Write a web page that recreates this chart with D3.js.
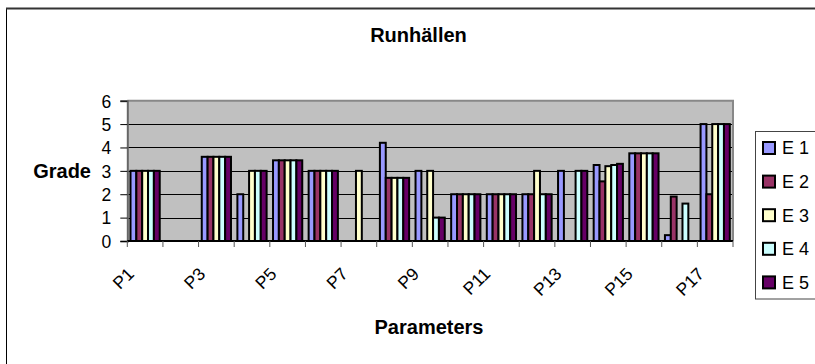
<!DOCTYPE html>
<html>
<head>
<meta charset="utf-8">
<script src="https://cdn.jsdelivr.net/npm/d3@7"></script>
<style>
  html, body { margin: 0; padding: 0; background: #fff; }
  svg { display: block; }
  text { font-family: "Liberation Sans", Arial, sans-serif; fill: #000; }
</style>
</head>
<body>
<svg id="chart" width="815" height="364"></svg>
<script>
// Grades per parameter for each evaluation round (null = not graded)
const categories = ["P1","P2","P3","P4","P5","P6","P7","P8","P9","P10","P11","P12","P13","P14","P15","P16","P17"];
const E1 = [3, null, 3.6, 2, 3.45, 3, null, 4.2, 3, 2, 2, 2, 3, 3.25, 3.75, 0.25, 5];
const E2 = [3, null, 3.6, null, 3.45, 3, null, 2.7, null, 2, 2, 2, null, 2.55, 3.75, 1.9, 2];
const E3 = [3, null, 3.6, 3, 3.45, 3, 3, 2.7, 3, 2, 2, 3, null, 3.2, 3.75, null, 5];
const E4 = [3, null, 3.6, 3, 3.45, 3, null, 2.7, 1, 2, 2, 2, 3, 3.25, 3.75, 1.6, 5];
const E5 = [3, null, 3.6, 3, 3.45, 3, null, 2.7, 1, 2, 2, 2, 3, 3.3, 3.75, null, 5];
const seriesNames = ["E 1", "E 2", "E 3", "E 4", "E 5"];
const seriesValues = [E1, E2, E3, E4, E5];
const colors = ["#9999FF", "#993366", "#FFFFCC", "#CCFFFF", "#660066"];
const yTicks = [0, 1, 2, 3, 4, 5, 6];
const tickLabels = categories.filter((d, i) => i % 2 === 0);

const svg = d3.select("#chart");

// Outer chart frame (left and top edges visible)
svg.append("path")
  .attr("d", "M6.5,364 V8.5 H815")
  .attr("fill", "none").attr("stroke", "#000").attr("stroke-width", 1);
svg.append("line")
  .attr("x1", 6).attr("x2", 815).attr("y1", 8.5).attr("y2", 8.5)
  .attr("stroke", "#333").attr("stroke-width", 2);

const plot = { left: 127.3, right: 733, top: 100.7, bottom: 241 };

const x0 = d3.scaleBand().domain(categories).range([plot.left, plot.right]).padding(0);
const groupPad = 3.2;
const x1 = d3.scaleBand().domain(d3.range(seriesNames.length))
  .range([groupPad, x0.bandwidth() - groupPad]).padding(0);
const y = d3.scaleLinear().domain([0, 6]).range([plot.bottom, plot.top]);

// Plot area background
svg.append("rect")
  .attr("x", plot.left).attr("y", plot.top)
  .attr("width", plot.right - plot.left).attr("height", plot.bottom - plot.top)
  .attr("fill", "#C0C0C0");

// Horizontal gridlines
svg.append("g").selectAll("line")
  .data(yTicks.filter(d => d > 0 && d < 6))
  .join("line")
  .attr("x1", plot.left).attr("x2", plot.right)
  .attr("y1", d => Math.round(y(d)) + 0.5).attr("y2", d => Math.round(y(d)) + 0.5)
  .attr("stroke", "#000").attr("stroke-width", 1);

// Bars
const bars = [];
seriesValues.forEach((vals, s) => {
  vals.forEach((v, i) => {
    if (v !== null) bars.push({ cat: categories[i], s, v });
  });
});
svg.append("g").selectAll("rect")
  .data(bars)
  .join("rect")
  .attr("x", d => x0(d.cat) + x1(d.s))
  .attr("width", x1.bandwidth())
  .attr("y", d => y(d.v))
  .attr("height", d => y(0) - y(d.v))
  .attr("fill", d => colors[d.s])
  .attr("stroke", "#000").attr("stroke-width", 2);

// Plot area border (top and right)
svg.append("path")
  .attr("d", `M${plot.left},${plot.top} H${plot.right} V${plot.bottom}`)
  .attr("fill", "none").attr("stroke", "#888").attr("stroke-width", 2);

// Y axis
const yAxis = d3.axisLeft(y).tickValues(yTicks).tickSize(7).tickPadding(9).tickFormat(d3.format("d"));
const gy = svg.append("g").attr("transform", `translate(${plot.left},0)`).call(yAxis);
gy.select(".domain").attr("stroke", "#666").attr("stroke-width", 2);
gy.selectAll(".tick line").attr("stroke", "#000");
gy.selectAll(".tick text")
  .style("font-family", '"Liberation Sans", Arial, sans-serif')
  .style("font-size", "17.5px").attr("dy", "0.36em");

// X axis: ticks at category boundaries
const gx = svg.append("g");
gx.append("line")
  .attr("x1", plot.left).attr("x2", plot.right)
  .attr("y1", plot.bottom).attr("y2", plot.bottom)
  .attr("stroke", "#000").attr("stroke-width", 2);
gx.selectAll("line.tick")
  .data(categories.concat(["end"]))
  .join("line")
  .attr("class", "tick")
  .attr("x1", (d, i) => i < categories.length ? x0(d) : plot.right)
  .attr("x2", (d, i) => i < categories.length ? x0(d) : plot.right)
  .attr("y1", plot.bottom).attr("y2", plot.bottom + 6)
  .attr("stroke", "#555").attr("stroke-width", 1);
gx.selectAll("text")
  .data(tickLabels)
  .join("text")
  .attr("transform", d => `translate(${x0(d) + x0.bandwidth() / 2 - 10},${275}) rotate(-45)`)
  .attr("text-anchor", "end")
  .style("font-size", "17.5px")
  .text(d => d);

// Titles
svg.append("text")
  .attr("x", 418.5).attr("y", 42.3)
  .attr("text-anchor", "middle")
  .style("font-size", "20px").style("font-weight", "bold")
  .text("Runhällen");
svg.append("text")
  .attr("x", 429).attr("y", 334)
  .attr("text-anchor", "middle")
  .style("font-size", "20px").style("font-weight", "bold")
  .text("Parameters");
svg.append("text")
  .attr("x", 91).attr("y", y(3))
  .attr("dy", "0.36em")
  .attr("text-anchor", "end")
  .style("font-size", "20px").style("font-weight", "bold")
  .text("Grade");

// Legend
const legend = svg.append("g");
legend.append("rect")
  .attr("x", 755.5).attr("y", 131.5).attr("width", 80).attr("height", 167.5)
  .attr("fill", "#fff").attr("stroke", "#444").attr("stroke-width", 1);
const items = legend.selectAll("g.item")
  .data(seriesNames)
  .join("g")
  .attr("class", "item")
  .attr("transform", (d, i) => `translate(0,${148 + i * 33.6})`);
items.append("rect")
  .attr("x", 763).attr("y", -6).attr("width", 12).attr("height", 12)
  .attr("fill", (d, i) => colors[i])
  .attr("stroke", "#000").attr("stroke-width", 2);
items.append("text")
  .attr("x", 782).attr("y", 0).attr("dy", "0.36em")
  .style("font-size", "18px")
  .text(d => d);
</script>
</body>
</html>
